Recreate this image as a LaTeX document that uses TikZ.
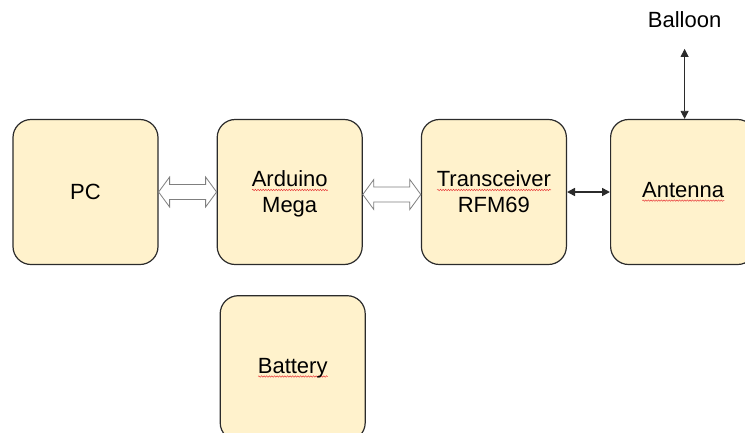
\documentclass[tikz,border=0pt]{standalone}
\usepackage{fontspec}
\setmainfont{Liberation Sans}
\usetikzlibrary{positioning,arrows.meta,calc,decorations.pathmorphing}
\definecolor{boxfill}{HTML}{FFF2CC}
\definecolor{boxline}{HTML}{2B2B2B}
\definecolor{pipegray}{HTML}{7F7F7F}
\definecolor{spellred}{HTML}{E83A3A}
\newsavebox{\spellbox}
\newcommand{\spell}[1]{\sbox{\spellbox}{#1}\rlap{\tikz[baseline=0pt]\draw[spellred, sharp corners, line width=0.5pt, decorate,
  decoration={snake, amplitude=0.7pt, segment length=2.6pt}] (0pt,-3pt) -- (\wd\spellbox,-3pt);}\usebox{\spellbox}}
\tikzset{
  unit/.style={
    draw=boxline, line width=1.2pt, fill=boxfill, rounded corners=18pt,
    minimum width=145pt, minimum height=145pt, inner sep=0pt, align=center,
    font=\fontsize{22}{26}\selectfont,
  },
  twoline/.style={unit, text depth=0pt},
  tag/.style={inner sep=0pt, font=\fontsize{22}{26}\selectfont},
  bus/.style={
    draw=pipegray, line width=0.8pt, fill=white,
    to path={let \p1=(\tikztostart), \p2=(\tikztotarget) in
      (\x1,\y2) -- ++(11pt,15pt) -- ++(0pt,-7.5pt) -- (\x2-11pt,\y2+7.5pt) -- ++(0pt,7.5pt)
      -- (\x2,\y2) -- ++(-11pt,-15pt) -- ++(0pt,7.5pt) -- (\x1+11pt,\y2-7.5pt) -- ++(0pt,-7.5pt) -- cycle},
  },
  link/.style={draw=boxline, {Triangle[length=8pt,width=8pt]}-{Triangle[length=8pt,width=8pt]}},
}

\begin{document}
\begin{tikzpicture}[x=1pt,y=-1pt]
\useasboundingbox (0,0) rectangle (745,432);
\clip (0,0) rectangle (745,432);

% ---- ground station chain --------------------------------------------------
\node[unit] (pc) at (85.5,192) {PC};
\node[twoline, right=58pt of pc]  (ard) {\spell{Arduino}\\Mega};
\node[twoline, right=58pt of ard] (trx) {\spell{Transceiver}\\RFM69};
\node[unit, right=43pt of trx] (ant) {\spell{Antenna}};

\draw[bus] (pc.east) to (ard.west);
\draw[bus] ([yshift=-2.5pt]ard.east) to ([yshift=-2.5pt]trx.west);
\draw[link, line width=1.6pt] (trx.east) -- (ant.west);

% ---- power and radio link ----------------------------------------------------
\node[unit, below=30pt of ard, xshift=3pt] (bat) {\spell{Battery}};
\node[tag, above=91pt of ant, xshift=1.5pt] (bal) {Balloon};
\draw[link, line width=0.8pt, shorten <=21pt] (bal.south) -- (bal.south |- ant.north);

\end{tikzpicture}
\end{document}
